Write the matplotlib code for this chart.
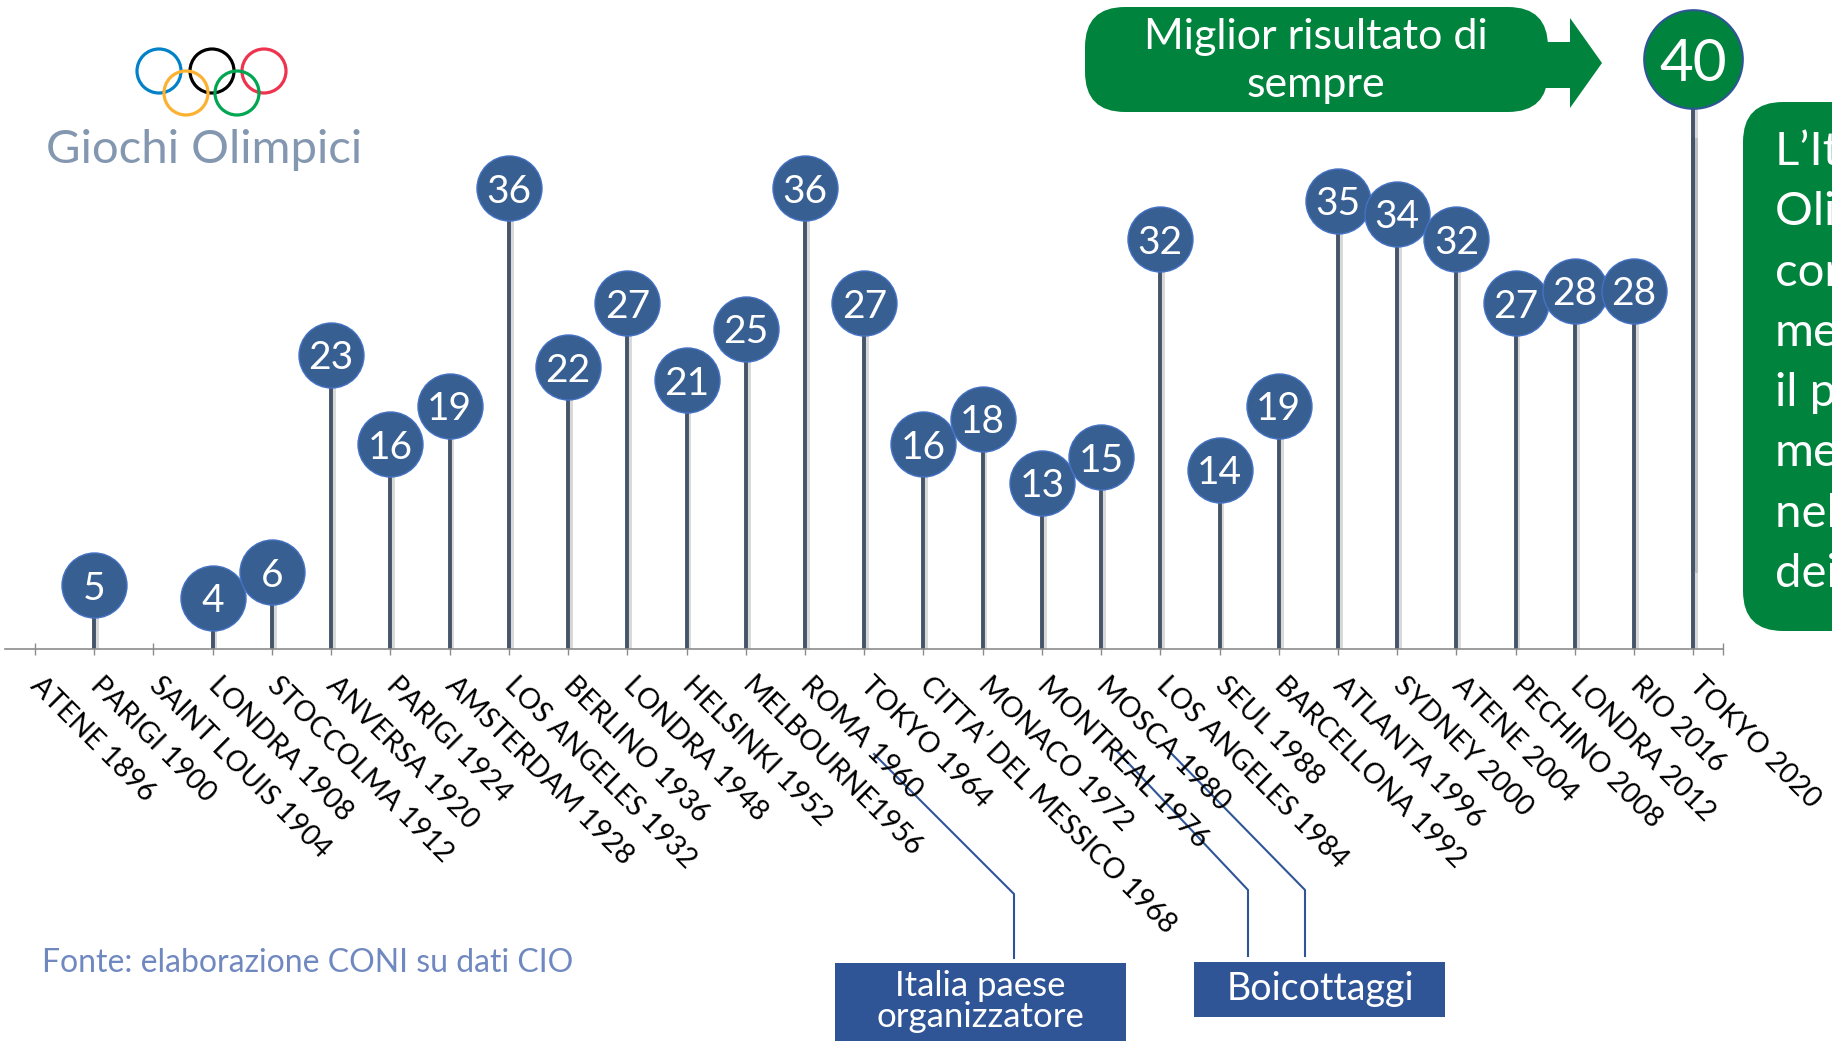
import matplotlib
matplotlib.use("Agg")
import matplotlib.pyplot as plt
import matplotlib.patheffects as pe
import numpy as np
from matplotlib.patches import Circle, FancyBboxPatch, Polygon, Rectangle
from matplotlib.transforms import offset_copy

plt.rcParams["font.family"] = ["Lato", "DejaVu Sans"]

# data: medals won by Italy at each Summer Olympics
games = [
    "ATENE 1896", "PARIGI 1900", "SAINT LOUIS 1904", "LONDRA 1908",
    "STOCCOLMA 1912", "ANVERSA 1920", "PARIGI 1924", "AMSTERDAM 1928",
    "LOS ANGELES 1932", "BERLINO 1936", "LONDRA 1948", "HELSINKI 1952",
    "MELBOURNE1956", "ROMA 1960", "TOKYO 1964", "CITTA\u2019 DEL MESSICO 1968",
    "MONACO 1972", "MONTREAL 1976", "MOSCA 1980", "LOS ANGELES 1984",
    "SEUL 1988", "BARCELLONA 1992", "ATLANTA 1996", "SYDNEY 2000",
    "ATENE 2004", "PECHINO 2008", "LONDRA 2012", "RIO 2016", "TOKYO 2020",
]
medals = [0, 5, 0, 4, 6, 23, 16, 19, 36, 22, 27, 21, 25, 36, 27, 16,
          18, 13, 15, 32, 14, 19, 35, 34, 32, 27, 28, 28, 40]

box_lines = ["L\u2019Italia alle", "Olimpiadi di Tokyo", "conquista 40",
             "medaglie:", "il pi\u00f9 alto numero di", "medaglie",
             "nella storia", "dei Giochi"]

W, H = 1832, 1041
BLUE = "#375F92"
STEM = "#44546A"
GREEN = "#00843D"
NAVY = "#2F5597"

fig = plt.figure(figsize=(W / 100, H / 100), dpi=100)

# main lollipop axes (12.8 px per medal, baseline at y=649 px)
px_unit = 12.8
base_y = 649
x0, x1 = 5.4, 1723
ymax = 46
ax = fig.add_axes([x0 / W, 1 - base_y / H, (x1 - x0) / W, ymax * px_unit / H])
ax.set_zorder(2)
ax.patch.set_visible(False)

medals = np.array(medals)
xs = np.arange(len(games))
best = int(np.argmax(medals))
has = medals > 0
regular = has & (xs != best)

ax.set_xlim(-0.5, len(games) - 0.5)
ax.set_ylim(0, ymax)
for s in ["top", "right", "left"]:
    ax.spines[s].set_visible(False)
ax.spines["bottom"].set_color("#8C8C8C")
ax.spines["bottom"].set_linewidth(1.2)
ax.set_yticks([])
ax.set_xticks(xs)
ax.set_xticklabels(games, rotation=-45, ha="left", va="center",
                   rotation_mode="anchor", fontsize=20.5)
ax.set_xticks([len(games) - 0.5], minor=True)
ax.tick_params(axis="x", which="both", direction="inout", length=8.6,
               width=1, color="#8C8C8C", pad=18.7)

shadow = [pe.SimpleLineShadow(offset=(2, -1), shadow_color="gray", alpha=0.3),
          pe.Normal()]
ax.vlines(xs[has], 0, medals[has], color=STEM, lw=2.8, zorder=2,
          path_effects=shadow)

# best result is lifted up for emphasis
hi_tr = offset_copy(ax.transData, fig=fig, x=0, y=56, units="points")
ax.vlines([best], 0, medals[best], color=STEM, lw=2.8, zorder=2,
          transform=hi_tr, clip_on=False, path_effects=shadow)

ax.plot(xs[regular], medals[regular], "o", ms=46.8, mfc=BLUE, mec="#4472C4",
        mew=1, clip_on=False, zorder=3)
for x, v in zip(xs[regular], medals[regular]):
    ax.text(x, v, str(v), ha="center", va="center_baseline", color="white",
            fontsize=28, zorder=4)

ax.plot([best], [medals[best]], "o", ms=71, mfc=GREEN, mec=NAVY, mew=1.5,
        transform=hi_tr, clip_on=False, zorder=3)
ax.text(best, medals[best], str(medals[best]), transform=hi_tr, ha="center",
        va="center_baseline", color="white", fontsize=42, zorder=4)

# overlay in pixel units for the decorations
ov = fig.add_axes([0, 0, 1, 1])
ov.set_zorder(1)
ov.set_xlim(0, W)
ov.set_ylim(H, 0)
ov.axis("off")

# olympic rings + title
rings = [((159, 71), "#0081C8"), ((212, 71), "#000000"), ((264, 71), "#EE334E"),
         ((186, 93), "#FCB131"), ((237, 93), "#00A651")]
for c, col in rings:
    ov.add_patch(Circle(c, 22, fill=False, lw=2.3, ec=col))
ov.text(204, 163, "Giochi Olimpici", ha="center", va="baseline",
        fontsize=34, color="#8497B0")

# "best ever" arrow callout
ov.add_patch(FancyBboxPatch((1085, 7), 463, 105,
                            boxstyle="round,pad=0,rounding_size=40",
                            fc=GREEN, ec="none"))
ov.add_patch(Polygon([(1540, 42), (1570, 42), (1570, 18), (1602, 63),
                      (1570, 108), (1570, 88), (1540, 88)],
                     closed=True, fc=GREEN, ec="none"))
ov.text(1316, 49, "Miglior risultato di", ha="center", va="baseline",
        fontsize=31, color="white")
ov.text(1316, 97, "sempre", ha="center", va="baseline",
        fontsize=31, color="white")

# side note box (cut at the right edge, as in the original slide)
ov.add_patch(FancyBboxPatch((1743, 102), 400, 529,
                            boxstyle="round,pad=0,rounding_size=40",
                            fc=GREEN, ec="none"))
for i, line in enumerate(box_lines):
    ov.text(1775, 165 + i * 60.3, line, ha="left", va="baseline",
            fontsize=34, color="white")

# source
ov.text(42, 972, "Fonte: elaborazione CONI su dati CIO", ha="left",
        va="baseline", fontsize=23, color="#7088C0", fontweight="normal")

# bottom callouts
ov.plot([1014, 1014, 874], [958, 894, 754], color=NAVY, lw=1.5)
ov.add_patch(Rectangle((835, 963), 291, 100, fc=NAVY, ec="none"))
ov.text(980, 996, "Italia paese", ha="center", va="baseline",
        fontsize=25, color="white")
ov.text(980, 1027, "organizzatore", ha="center", va="baseline",
        fontsize=25, color="white")

ov.plot([1248, 1248, 1116], [956, 890, 750], color=NAVY, lw=1.5)
ov.plot([1305, 1305, 1168], [956, 890, 750], color=NAVY, lw=1.5)
ov.add_patch(Rectangle((1194, 962), 251, 55, fc=NAVY, ec="none"))
ov.text(1320, 1000, "Boicottaggi", ha="center", va="baseline",
        fontsize=27, color="white")

fig.savefig("out.png", dpi=100)
